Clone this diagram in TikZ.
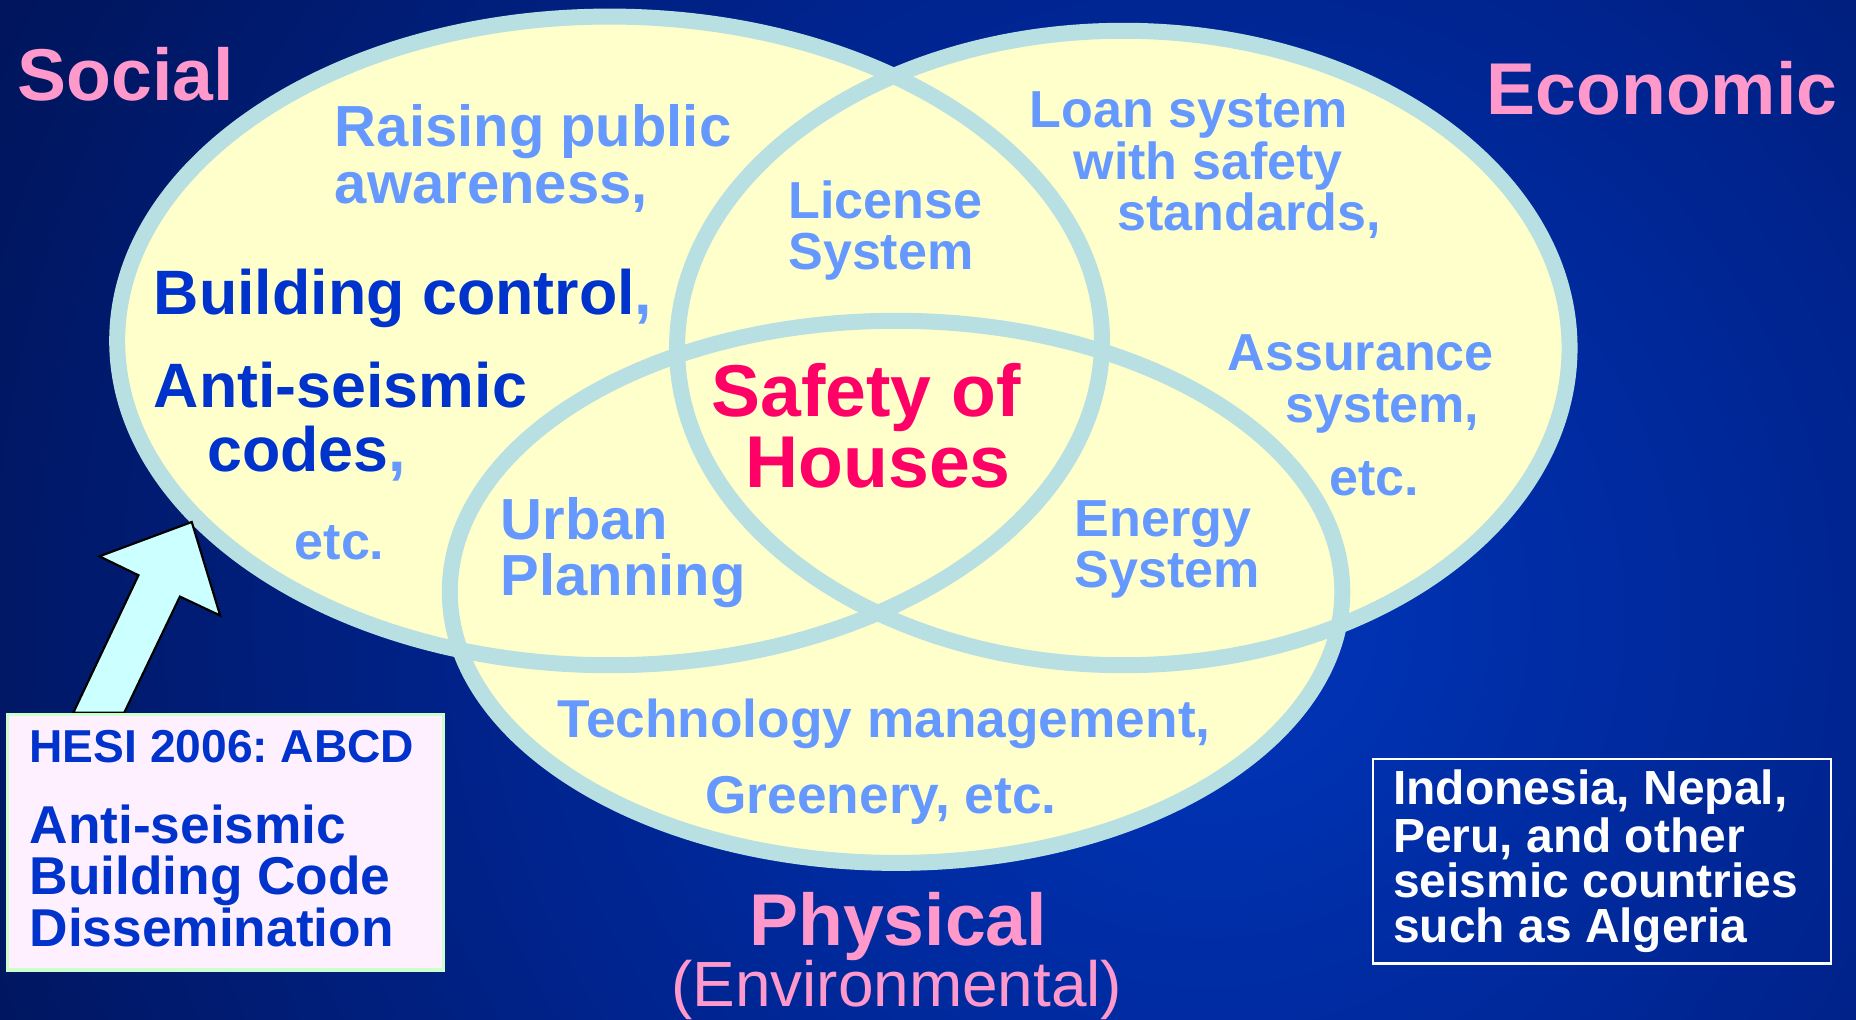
\documentclass[tikz,border=0pt]{standalone}
\usepackage{fontspec}
\setmainfont{Liberation Sans}
\frenchspacing
\definecolor{bgin}{HTML}{0036BC}
\definecolor{bgmid}{HTML}{00248F}
\definecolor{bgedge}{HTML}{001660}
\definecolor{bgout}{HTML}{00114F}
\definecolor{ellfill}{HTML}{FFFFCC}
\definecolor{ellline}{HTML}{B8E0E2}
\definecolor{headpink}{HTML}{FF99CC}
\definecolor{lightblue}{HTML}{6699FF}
\definecolor{darkblue}{HTML}{0033CC}
\definecolor{safered}{HTML}{FF0066}
\definecolor{arrowfill}{HTML}{CCFFFF}
\definecolor{boxfill}{HTML}{FFF0FF}
\definecolor{boxline}{HTML}{CCFFCC}
\pgfdeclareradialshading{bgshade}{\pgfpointorigin}{%
  color(0bp)=(bgin); color(8bp)=(bgmid); color(15bp)=(bgedge); color(20bp)=(bgout); color(50bp)=(bgout)}
\newcommand\fsz[1]{\fontsize{#1}{#1}\selectfont}
\begin{document}
\begin{tikzpicture}[x=0.5pt,y=-0.5pt,
  txt/.style={inner sep=0pt, outer sep=0pt, anchor=base west, font=\bfseries},
  head/.style={txt, text=headpink, font=\bfseries\fsz{31pt}},
  lb/.style={txt, text=lightblue},
  db/.style={txt, text=darkblue},
  ellfillst/.style={fill=ellfill},
  elllinest/.style={draw=ellline, line width=6.75pt}]
\useasboundingbox (0,0) rectangle (1568,861);
\begin{scope}
  \clip (0,0) rectangle (1568,861);
  \shade[shading=bgshade] (1020,520) circle (900pt);
\end{scope}
% ellipse centres
\coordinate (socialC) at (515,288);
\coordinate (econC) at (949,294);
\coordinate (physC) at (757,500);
% fills
\path[ellfillst] (socialC) ellipse [x radius=208pt, y radius=137pt];
\path[ellfillst] (econC) ellipse [x radius=188.5pt, y radius=134pt];
\path[ellfillst] (physC) ellipse [x radius=188.5pt, y radius=114.5pt];
% outlines
\path[elllinest] (socialC) ellipse [x radius=208pt, y radius=137pt];
\path[elllinest] (econC) ellipse [x radius=188.5pt, y radius=134pt];
\path[elllinest] (physC) ellipse [x radius=188.5pt, y radius=114.5pt];
% headings
\node[head] (social) at (15,85) {Social};
\node[head] (economic) at (1256,97) {Economic};
\node[head] (physical) at (633,799) {Physical};
\node[txt, text=headpink, font=\fsz{27pt}] (environ) at (567,850) {(Environmental)};
% social texts
\node[lb, font=\bfseries\fsz{24.5pt}] (raise1) at (283,124) {Raising public};
\node[lb, font=\bfseries\fsz{24.5pt}] (raise2) at (283,172) {awareness,};
\node[db, font=\bfseries\fsz{26.5pt}] (bctrl) at (130,266) {Building control\textcolor{lightblue}{,}};
\node[db, font=\bfseries\fsz{26.5pt}] (antis1) at (130,344) {Anti-seismic};
\node[db, font=\bfseries\fsz{26.5pt}] (antis2) at (175,398) {codes\textcolor{lightblue}{,}};
\node[lb, font=\bfseries\fsz{22pt}] (etcS) at (249,473) {etc.};
% license
\node[lb, font=\bfseries\fsz{22pt}] (lic1) at (666,185) {License};
\node[lb, font=\bfseries\fsz{22pt}] (lic2) at (666,228) {System};
% economic texts
\node[lb, font=\bfseries\fsz{22pt}] (loan1) at (870,108) {Loan system};
\node[lb, font=\bfseries\fsz{22pt}] (loan2) at (907,152) {with safety};
\node[lb, font=\bfseries\fsz{22pt}] (loan3) at (944,195) {standards,};
\node[lb, font=\bfseries\fsz{22pt}] (assur1) at (1037,313) {Assurance};
\node[lb, font=\bfseries\fsz{22pt}] (assur2) at (1086,357) {system,};
\node[lb, font=\bfseries\fsz{22pt}] (etcE) at (1123,419) {etc.};
% centre
\node[txt, text=safered, font=\bfseries\fsz{31pt}] (safety1) at (601,352) {Safety of};
\node[txt, text=safered, font=\bfseries\fsz{31pt}] (safety2) at (630,412) {Houses};
% pair intersections
\node[lb, font=\bfseries\fsz{24.5pt}] (urban1) at (423,456) {Urban};
\node[lb, font=\bfseries\fsz{24.5pt}] (urban2) at (423,503) {Planning};
\node[lb, font=\bfseries\fsz{22pt}] (energy1) at (908,453) {Energy};
\node[lb, font=\bfseries\fsz{22pt}] (energy2) at (908,496) {System};
% physical texts
\node[lb, font=\bfseries\fsz{22.5pt}] (tech) at (471,623) {Technology management,};
\node[lb, font=\bfseries\fsz{22.5pt}] (green) at (596,687) {Greenery, etc.};
% arrow
\draw[fill=arrowfill, draw=black, line width=0.9pt, line join=miter]
  (62,602) -- (117,486) -- (84,470) -- (162,441) -- (186,520) -- (152,504) -- (105,602) -- cycle;
% HESI box
\node[draw=boxline, fill=boxfill, line width=1.5pt, minimum width=184pt, minimum height=108pt,
  inner sep=0pt, anchor=north west] (hesibox) at (5,602) {};
\node[db, font=\bfseries\fsz{19.5pt}] (hesi1) at (25,644) {HESI 2006: ABCD};
\node[db, font=\bfseries\fsz{22.5pt}] (hesi2) at (25,713) {Anti-seismic};
\node[db, font=\bfseries\fsz{22.5pt}] (hesi3) at (25,756) {Building Code};
\node[db, font=\bfseries\fsz{22.5pt}] (hesi4) at (25,800) {Dissemination};
% countries box
\node[draw=white, line width=1pt, minimum width=193.5pt, minimum height=86.5pt,
  inner sep=0pt, anchor=north west] (ctrybox) at (1159,640) {};
\node[txt, text=white, font=\bfseries\fsz{20.25pt}] (ctry1) at (1177,680) {Indonesia, Nepal,};
\node[txt, text=white, font=\bfseries\fsz{20.25pt}] (ctry2) at (1177,720) {Peru, and other};
\node[txt, text=white, font=\bfseries\fsz{20.25pt}] (ctry3) at (1177,758) {seismic countries};
\node[txt, text=white, font=\bfseries\fsz{20.25pt}] (ctry4) at (1177,796) {such as Algeria};
\end{tikzpicture}
\end{document}
